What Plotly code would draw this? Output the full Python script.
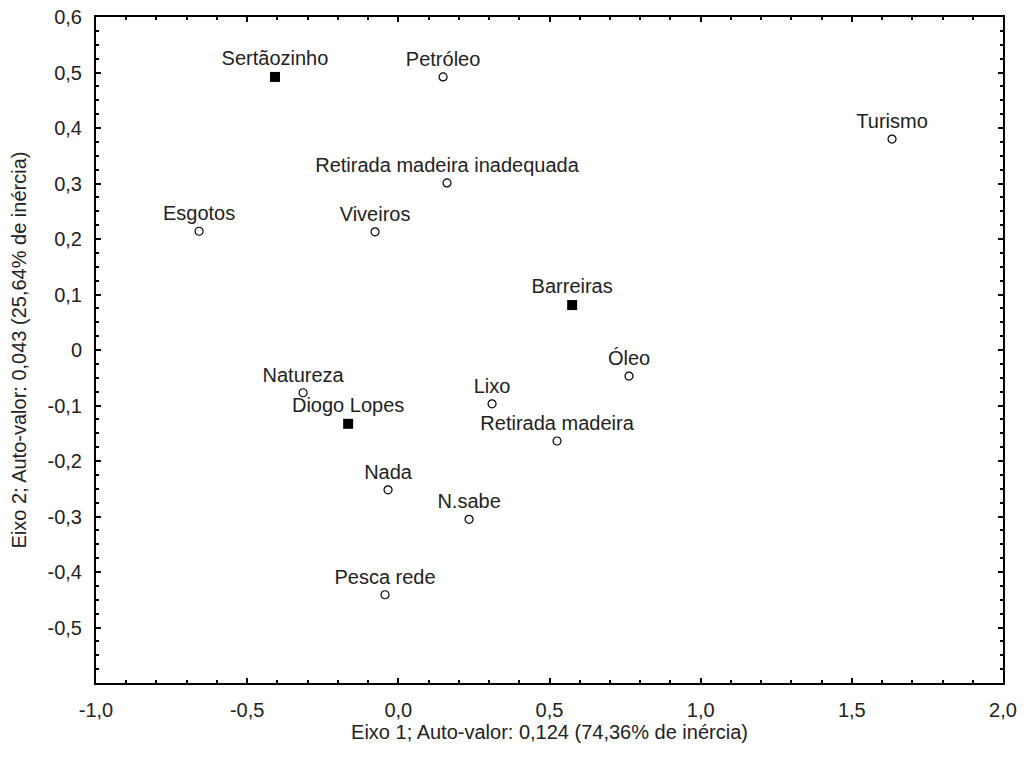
import plotly.graph_objects as go

# Category coordinates (Eixo 1, Eixo 2)
cat_names = ["Petróleo", "Turismo", "Retirada madeira inadequada", "Esgotos", "Viveiros",
             "Óleo", "Natureza", "Lixo", "Retirada madeira", "Nada", "N.sabe", "Pesca rede"]
cat_x = [0.148, 1.633, 0.161, -0.659, -0.077, 0.763, -0.315, 0.310, 0.525, -0.034, 0.234, -0.044]
cat_y = [0.492, 0.380, 0.301, 0.214, 0.213, -0.047, -0.077, -0.097, -0.164, -0.252, -0.305, -0.441]

# Locality coordinates
loc_names = ["Sertãozinho", "Barreiras", "Diogo Lopes"]
loc_x = [-0.408, 0.575, -0.166]
loc_y = [0.492, 0.081, -0.133]

x_ticks = [-1.0, -0.5, 0.0, 0.5, 1.0, 1.5, 2.0]
x_ticklabels = ["-1,0", "-0,5", "0,0", "0,5", "1,0", "1,5", "2,0"]
y_ticks = [-0.5, -0.4, -0.3, -0.2, -0.1, 0.0, 0.1, 0.2, 0.3, 0.4, 0.5, 0.6]
y_ticklabels = ["-0,5", "-0,4", "-0,3", "-0,2", "-0,1", "0", "0,1", "0,2", "0,3", "0,4", "0,5", "0,6"]

FONT = "Liberation Sans, Arial, sans-serif"
TXT = "#222222"
FS = 20

fig = go.Figure()
fig.add_trace(go.Scatter(
    x=cat_x, y=cat_y, text=cat_names, mode="markers+text",
    textposition="top center",
    textfont=dict(family=FONT, size=FS, color=TXT),
    marker=dict(symbol="circle-open", size=8, color="black", line=dict(width=1.2, color="black")),
    showlegend=False, cliponaxis=False,
))
fig.add_trace(go.Scatter(
    x=loc_x, y=loc_y, text=loc_names, mode="markers+text",
    textposition="top center",
    textfont=dict(family=FONT, size=FS, color=TXT),
    marker=dict(symbol="square", size=10, color="black"),
    showlegend=False, cliponaxis=False,
))

axis_common = dict(
    showgrid=False, zeroline=False, showline=True, linecolor="black", linewidth=2,
    mirror="allticks", ticks="inside", ticklen=5, tickwidth=1.5, tickcolor="black",
    tickfont=dict(family=FONT, size=FS, color=TXT), automargin=False,
)

fig.update_layout(
    width=1024, height=758,
    margin=dict(l=96, r=21, t=17, b=75),
    paper_bgcolor="white", plot_bgcolor="white",
    font=dict(family=FONT, color=TXT),
    xaxis=dict(
        range=[-1.0, 2.0], tickmode="array", tickvals=x_ticks, ticktext=x_ticklabels,
        ticklabelstandoff=8,
        minor=dict(dtick=0.1, ticks="inside", ticklen=3, tickwidth=1.5, tickcolor="black"),
        title=dict(text="Eixo 1; Auto-valor: 0,124 (74,36% de inércia)",
                   font=dict(family=FONT, size=FS, color=TXT), standoff=4),
        **axis_common,
    ),
    yaxis=dict(
        range=[-0.6, 0.6], tickmode="array", tickvals=y_ticks, ticktext=y_ticklabels,
        ticklabelstandoff=8,
        minor=dict(dtick=0.025, tick0=0, ticks="inside", ticklen=3, tickwidth=1.5, tickcolor="black"),
        title=dict(text="Eixo 2; Auto-valor: 0,043 (25,64% de inércia)",
                   font=dict(family=FONT, size=FS, color=TXT), standoff=16),
        **axis_common,
    ),
)

fig.write_html("out.html")
